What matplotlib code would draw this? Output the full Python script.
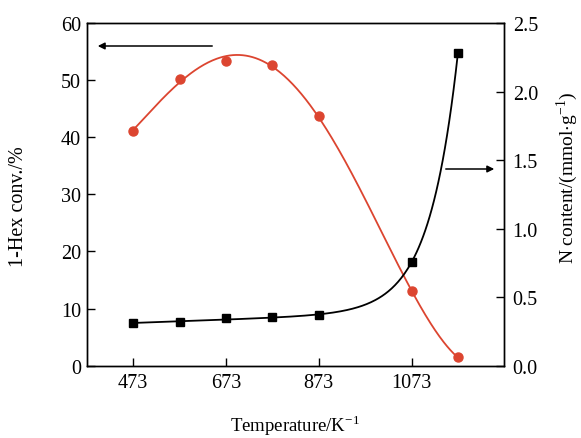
import numpy as np
import matplotlib
matplotlib.use("Agg")
import matplotlib.pyplot as plt

plt.rcParams['font.family'] = ['Liberation Serif', 'DejaVu Serif']
plt.rcParams['mathtext.fontset'] = 'stix'

# data
temperature = [473, 573, 673, 773, 873, 1073, 1173]
hex_conv = [41.1, 50.2, 53.4, 52.6, 43.7, 13.0, 1.5]          # left axis, %
n_content = [0.31, 0.32, 0.345, 0.353, 0.37, 0.754, 2.28]    # right axis, mmol/g
x_ticks = [473, 673, 873, 1073]

RED = '#dc4530'

fig = plt.figure(figsize=(5.81, 4.39), dpi=100)
ax = fig.add_axes([86.7/581, 1-366.7/439, (504.3-86.7)/581, (366.7-24)/439])
ax2 = ax.twinx()

x = np.array(temperature, float)
xs = np.linspace(x[0], x[-1], 300)

# red: polynomial fit
p = np.polyfit(x, hex_conv, 4)
ax.plot(xs, np.polyval(p, xs), color=RED, lw=1.3)
ax.plot(x, hex_conv, 'o', color=RED, ms=6.5, mec=RED)

# black: linear + exponential fit
y = np.array(n_content)
best = None
for k in np.linspace(0.002, 0.04, 400):
  A = np.column_stack([np.ones_like(x), x - x[0], np.exp(k*(x - x[-1]))])
  c, *_ = np.linalg.lstsq(A, y, rcond=None)
  err = np.sum((A @ c - y)**2)
  if best is None or err < best[0]:
    best = (err, k, c)
_, k, c = best
ys = c[0] + c[1]*(xs - x[0]) + c[2]*np.exp(k*(xs - x[-1]))
ax2.plot(xs, ys, color='black', lw=1.3)
ax2.plot(x, y, 's', color='black', ms=6)

ax.set_xlim(373, 1273)
ax.set_ylim(0, 60)
ax2.set_ylim(0, 2.5)
ax.set_xticks(x_ticks)
ax.set_yticks(range(0, 61, 10))
ax2.set_yticks(np.arange(0, 2.51, 0.5))
ax2.set_yticklabels(['%.1f' % v for v in np.arange(0, 2.51, 0.5)])

for a in (ax, ax2):
  a.tick_params(direction='in', length=6, width=1, labelsize=14.5)
  for s in a.spines.values():
    s.set_linewidth(1.0)
ax.tick_params(axis='y', right=False, pad=4)
ax.tick_params(axis='x', pad=5)
ax2.tick_params(axis='y', pad=6)

ax.set_xlabel(r"Temperature/K$^{\mathregular{-1}}$", fontsize=13.5, va='center')
ax.xaxis.set_label_coords(0.5, (366.7-426)/342.7)
ax.set_ylabel("1-Hex conv./%", fontsize=14.5, va='center')
ax.yaxis.set_label_coords((19-86.7)/417.6, (366.7-207)/342.7)
ax2.set_ylabel(r"N content/(mmol$\cdot$g$^{\mathregular{-1}}$)", fontsize=14,
               va='center', rotation=90)
ax2.yaxis.set_label_coords((567-86.7)/417.6, (366.7-178)/342.7)

# direction arrows
ax.annotate('', xy=(95, 439-47), xytext=(215, 439-47), xycoords='figure pixels',
            textcoords='figure pixels',
            arrowprops=dict(arrowstyle='-|>', color='black', lw=1.1, mutation_scale=10))
ax.annotate('', xy=(497, 439-170), xytext=(443, 439-170), xycoords='figure pixels',
            textcoords='figure pixels',
            arrowprops=dict(arrowstyle='-|>', color='black', lw=1.1, mutation_scale=10))

fig.savefig("out.png", dpi=100)
